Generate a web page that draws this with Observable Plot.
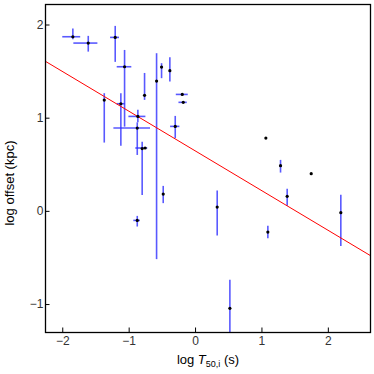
<!DOCTYPE html>
<html>
<head>
<meta charset="utf-8">
<script src="https://cdn.jsdelivr.net/npm/d3@7"></script>
<script src="https://cdn.jsdelivr.net/npm/@observablehq/plot@0.6"></script>
<style>
  html, body { margin: 0; padding: 0; background: white; }
</style>
</head>
<body>
<div id="chart"></div>
<script>
// log T50,i (s)
const logT   = [-1.848, -1.616, -1.21, -1.069, -1.375, -1.125, -0.869, -0.878, -0.804, -0.76, -0.768, -0.587, -0.512, -0.387, -0.2, -0.185, -0.306, -0.878, -0.487, 0.326, 0.517, 1.089, 1.28, 1.38, 1.742, 2.188, 1.059];
// log offset (kpc)
const logOff = [1.874, 1.806, 1.867, 1.552, 1.194, 1.155, 1.019, 0.894, 0.674, 0.68, 1.245, 1.398, 1.548, 1.51, 1.255, 1.17, 0.912, -0.097, 0.186, 0.046, -1.041, -0.222, 0.49, 0.161, 0.404, -0.014, 0.787];
// vertical error bar ends (null = none)
const offLo  = [1.842, 1.709, 1.599, 0.904, 0.733, 0.70, 0.95, 0.60, 0.17, null, 1.191, -0.518, 1.424, 1.387, null, null, 0.78, -0.168, 0.083, -0.265, -1.5, -0.293, 0.411, 0.054, null, -0.376, null];
const offHi  = [1.956, 1.878, 1.985, 1.727, 1.263, 1.263, 1.084, 0.95, 0.743, null, 1.48, 1.692, 1.585, 1.649, null, null, 1.019, -0.054, 0.268, 0.218, -0.74, -0.161, 0.547, 0.236, null, 0.172, null];
// horizontal error bar ends (null = none)
const tLo    = [-2.0, -1.833, -1.28, -1.18, null, -1.18, -1.004, -1.23, null, -0.90, null, null, null, null, -0.29, -0.25, -0.376, -0.93, null, null, null, null, null, null, null, null, null];
const tHi    = [-1.73, -1.471, -1.145, -0.96, null, -1.06, -0.748, -0.678, null, -0.72, null, null, null, null, -0.11, -0.125, -0.236, -0.83, null, null, null, null, null, null, null, null, null];

// linear fit: log offset = intercept + slope * log T
const fitIntercept = 0.647;
const fitSlope = -0.426;

const xTicks = [-2, -1, 0, 1, 2];
const yTicks = [-1, 0, 1, 2];
const xDomain = [-2.26, 2.635];
const yDomain = [-1.30, 2.22];

const pts = logT.map((x, i) => ({x, y: logOff[i], ylo: offLo[i], yhi: offHi[i], xlo: tLo[i], xhi: tHi[i]}));
const vbars = pts.filter(d => d.ylo != null);
const hbars = pts.filter(d => d.xlo != null);
const fit = xDomain.map(x => ({x, y: fitIntercept + fitSlope * x}));

const W = 374, H = 374, mT = 4, mR = 4, mB = 42, mL = 45;
const innerW = W - mL - mR, innerH = H - mT - mB;
const blue = "#3030ff";
const fmt = d => (d < 0 ? "\u2212" : "") + Math.abs(d);

const chart = Plot.plot({
  width: W, height: H,
  marginTop: mT, marginRight: mR, marginBottom: mB, marginLeft: mL,
  style: {fontFamily: "'Liberation Sans', Arial, sans-serif", fontSize: "12px", background: "white", color: "black"},
  x: {domain: xDomain},
  y: {domain: yDomain},
  marks: [
    Plot.ruleX(vbars, {x: "x", y1: "ylo", y2: "yhi", stroke: blue, strokeOpacity: 0.8, strokeWidth: 1.6, clip: true}),
    Plot.ruleY(hbars, {y: "y", x1: "xlo", x2: "xhi", stroke: blue, strokeOpacity: 0.8, strokeWidth: 1.6, clip: true}),
    Plot.line(fit, {x: "x", y: "y", stroke: "red", strokeWidth: 1, clip: true}),
    Plot.dot(pts, {x: "x", y: "y", r: 1.6, fill: "black", stroke: null}),
    Plot.tickX(xTicks, {x: d => d, insetTop: innerH - 4.5, stroke: "black", strokeWidth: 1}),
    Plot.tickY(yTicks, {y: d => d, insetRight: innerW - 4.5, stroke: "black", strokeWidth: 1}),
    Plot.axisX({ticks: xTicks, tickFormat: fmt, tickSize: 0, tickPadding: 4, label: null, fill: "#333", fontSize: 12}),
    Plot.axisY({ticks: yTicks, tickFormat: fmt, tickSize: 0, tickPadding: 2, label: null, fill: "#333", fontSize: 12}),
    Plot.frame({stroke: "black", strokeWidth: 1.3})
  ]
});

const svg = d3.select(chart);
// x-axis label with italic T and subscript
const xl = svg.append("text")
  .attr("x", 208).attr("y", 364)
  .attr("text-anchor", "middle")
  .attr("font-family", "'Liberation Sans', Arial, sans-serif")
  .attr("font-size", 13).attr("fill", "black");
xl.append("tspan").text("log ");
xl.append("tspan").attr("font-style", "italic").text("T");
xl.append("tspan").attr("font-size", 9).attr("dy", 3).text("50,i");
xl.append("tspan").attr("dy", -3).text(" (s)");

svg.append("text")
  .attr("transform", "translate(13.5,183) rotate(-90)")
  .attr("text-anchor", "middle")
  .attr("font-family", "'Liberation Sans', Arial, sans-serif")
  .attr("font-size", 13).attr("fill", "black")
  .text("log offset (kpc)");

document.getElementById("chart").appendChild(chart);
</script>
</body>
</html>
